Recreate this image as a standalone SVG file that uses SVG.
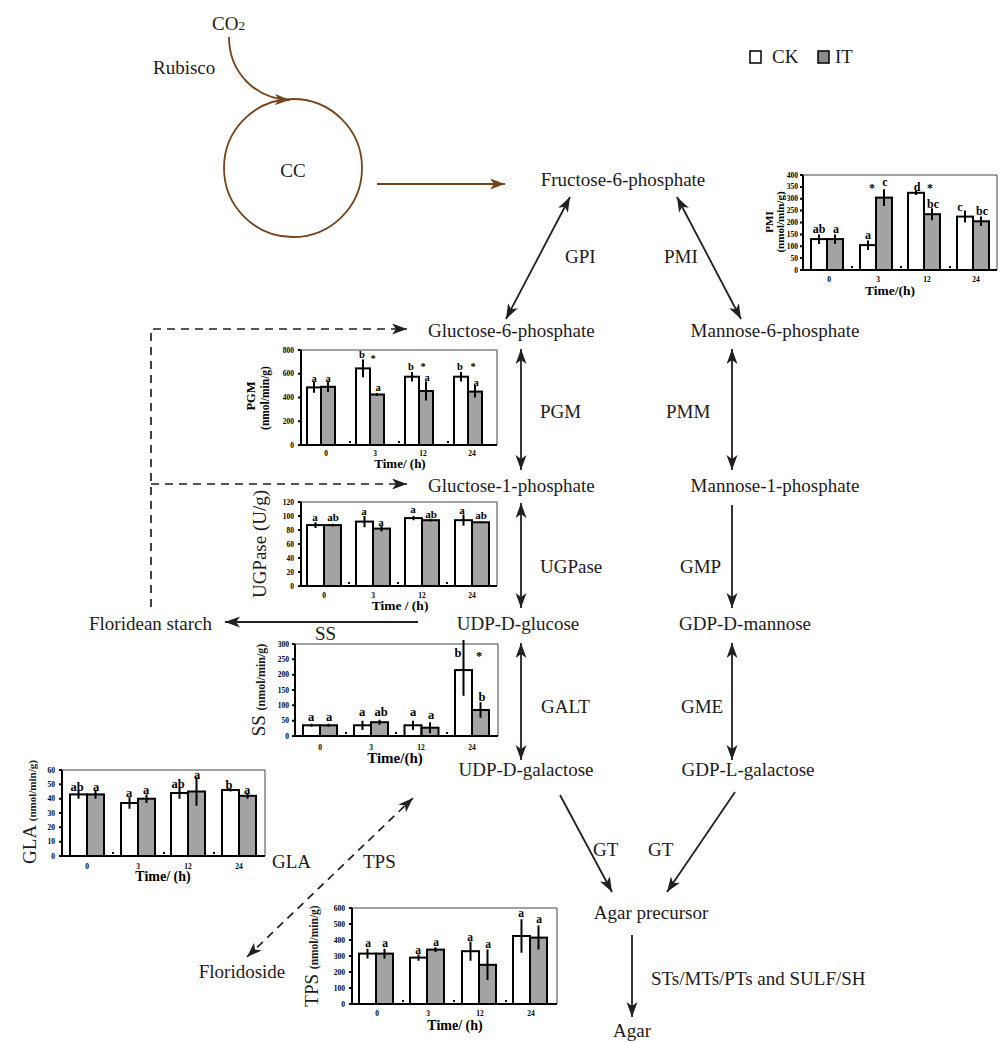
<svg xmlns="http://www.w3.org/2000/svg" width="1000" height="1043" viewBox="0 0 1000 1043">
<defs>
<style>
.t{font-family:"Liberation Serif","Times New Roman",serif;font-size:19px;fill:#1e1a1a}
.b{font-family:"Liberation Serif","Times New Roman",serif;font-weight:bold;fill:#000}
.w{fill:#fff;stroke:#000;stroke-width:2}
.g{fill:#a3a3a3;stroke:#000;stroke-width:2}
.e{stroke:#000;stroke-width:2}
.ax{stroke:#000;stroke-width:2;fill:none}
.fr{stroke:#444;stroke-width:1;fill:none}
.tk{font-size:7.5px}
.c{stroke:#231f20;stroke-width:1.8;fill:none}
.d{stroke:#231f20;stroke-width:1.7;fill:none;stroke-dasharray:8 6}
.br{stroke:#74441f;stroke-width:1.8;fill:none}
</style>
<marker id="ah" markerUnits="userSpaceOnUse" markerWidth="17" markerHeight="12" refX="15" refY="5.5" orient="auto-start-reverse">
<path d="M0,0 L15,5.5 L0,11 L4,5.5 z" fill="#231f20"/>
</marker>
<marker id="bh" markerUnits="userSpaceOnUse" markerWidth="17" markerHeight="12" refX="15" refY="5.5" orient="auto">
<path d="M0,0 L15,5.5 L0,11 L4,5.5 z" fill="#74441f"/>
</marker>
</defs>
<rect width="1000" height="1043" fill="#fff"/>

<g id="connectors">
<path class="br" d="M229,37 C229,72 255,99 290,100" marker-end="url(#bh)"/>
<line class="br" x1="377" y1="184" x2="505" y2="184" marker-end="url(#bh)"/>
<line class="c" x1="570" y1="197" x2="506" y2="319" marker-start="url(#ah)" marker-end="url(#ah)"/>
<line class="c" x1="677" y1="197" x2="741" y2="319" marker-start="url(#ah)" marker-end="url(#ah)"/>
<line class="c" x1="521" y1="349" x2="521" y2="470" marker-start="url(#ah)" marker-end="url(#ah)"/>
<line class="c" x1="732" y1="349" x2="732" y2="470" marker-start="url(#ah)" marker-end="url(#ah)"/>
<line class="c" x1="521" y1="503" x2="521" y2="608" marker-start="url(#ah)" marker-end="url(#ah)"/>
<line class="c" x1="732" y1="505" x2="732" y2="608" marker-end="url(#ah)"/>
<line class="c" x1="521" y1="643" x2="521" y2="760" marker-start="url(#ah)" marker-end="url(#ah)"/>
<line class="c" x1="732" y1="643" x2="732" y2="760" marker-start="url(#ah)" marker-end="url(#ah)"/>
<line class="c" x1="560" y1="795" x2="612" y2="892" marker-end="url(#ah)"/>
<line class="c" x1="735" y1="792" x2="667" y2="892" marker-end="url(#ah)"/>
<line class="c" x1="632" y1="935" x2="632" y2="1017" marker-end="url(#ah)"/>
<line class="c" x1="418" y1="622" x2="225" y2="622" marker-end="url(#ah)"/>
<path class="d" d="M151,607 V329 H407" marker-end="url(#ah)"/>
<path class="d" d="M151,484 H407" marker-end="url(#ah)"/>
<line class="d" x1="247" y1="957" x2="413" y2="798" marker-start="url(#ah)" marker-end="url(#ah)"/>
</g>

<g id="node-co2"><text class="t" x="212" y="30">CO<tspan font-size="13">2</tspan></text></g>
<g id="label-rubisco"><text class="t" x="153" y="74">Rubisco</text></g>
<g id="node-cc"><circle cx="293" cy="168" r="69" fill="none" stroke="#74441f" stroke-width="1.8"/><text class="t" x="293" y="177" text-anchor="middle" font-size="20">CC</text></g>

<g id="legend">
<rect x="750" y="51" width="11" height="12" fill="#fff" stroke="#000" stroke-width="1.5"/>
<text class="t" x="772" y="63">CK</text>
<rect x="818" y="51" width="11" height="12" fill="#8c8c8c" stroke="#000" stroke-width="1.5"/>
<text class="t" x="835" y="63">IT</text>
</g>

<g id="node-f6p"><text class="t" x="623" y="186" text-anchor="middle">Fructose-6-phosphate</text></g>
<g id="node-g6p"><text class="t" x="428" y="337">Gluctose-6-phosphate</text></g>
<g id="node-m6p"><text class="t" x="775" y="337" text-anchor="middle">Mannose-6-phosphate</text></g>
<g id="node-g1p"><text class="t" x="428" y="492">Gluctose-1-phosphate</text></g>
<g id="node-m1p"><text class="t" x="775" y="492" text-anchor="middle">Mannose-1-phosphate</text></g>
<g id="node-starch"><text class="t" x="89" y="630">Floridean starch</text></g>
<g id="node-udpglc"><text class="t" x="518" y="630" text-anchor="middle">UDP-D-glucose</text></g>
<g id="node-gdpman"><text class="t" x="745" y="630" text-anchor="middle">GDP-D-mannose</text></g>
<g id="node-udpgal"><text class="t" x="526" y="776" text-anchor="middle">UDP-D-galactose</text></g>
<g id="node-gdpgal"><text class="t" x="748" y="776" text-anchor="middle">GDP-L-galactose</text></g>
<g id="node-precursor"><text class="t" x="651" y="919" text-anchor="middle">Agar precursor</text></g>
<g id="node-floridoside"><text class="t" x="242" y="978" text-anchor="middle">Floridoside</text></g>
<g id="node-agar"><text class="t" x="632" y="1037" text-anchor="middle">Agar</text></g>

<g id="enzyme-labels">
<text class="t" x="565" y="263">GPI</text>
<text class="t" x="664" y="263">PMI</text>
<text class="t" x="540" y="418">PGM</text>
<text class="t" x="666" y="418">PMM</text>
<text class="t" x="540" y="573">UGPase</text>
<text class="t" x="680" y="573">GMP</text>
<text class="t" x="315" y="640">SS</text>
<text class="t" x="541" y="713">GALT</text>
<text class="t" x="681" y="713">GME</text>
<text class="t" x="593" y="856">GT</text>
<text class="t" x="648" y="856">GT</text>
<text class="t" x="272" y="868">GLA</text>
<text class="t" x="363" y="868">TPS</text>
<text class="t" x="651" y="985">STs/MTs/PTs and SULF/SH</text>
</g>

<!-- PMI chart -->
<g id="chart-pmi">
<path class="fr" d="M803,175 H997 V270"/>
<rect class="w" x="811" y="239.1" width="16" height="30.9"/><rect class="g" x="827" y="239.1" width="16" height="30.9"/>
<rect class="w" x="860" y="245.1" width="16" height="24.9"/><rect class="g" x="876" y="197.6" width="16" height="72.4"/>
<rect class="w" x="908" y="192.8" width="16" height="77.2"/><rect class="g" x="924" y="214.2" width="16" height="55.8"/>
<rect class="w" x="957" y="216.6" width="16" height="53.4"/><rect class="g" x="973" y="221.3" width="16" height="48.7"/>
<path class="e" d="M819,234.4V243.9M835,234.4V243.9M868,240.4V249.9M884,189.3V205.9M916,190.5V195M932,208.2V220.2M965,210.6V222.6M981,216.5V226"/>
<path class="ax" d="M803,175 V270 H997"/>
<path class="e" stroke-width="1" d="M800,175H803M800,186.9H803M800,198.8H803M800,210.6H803M800,222.5H803M800,234.4H803M800,246.3H803M800,258.1H803M800,270H803"/>
<path class="e" d="M852,268v-2M901,268v-2M950,268v-2"/>
<g class="b tk" text-anchor="end" font-size="7">
<text x="798" y="272.5">0</text><text x="798" y="260.6">50</text><text x="798" y="248.8">100</text><text x="798" y="236.9">150</text><text x="798" y="225">200</text><text x="798" y="213.1">250</text><text x="798" y="201.3">300</text><text x="798" y="189.4">350</text><text x="798" y="177.5">400</text>
</g>
<g class="b tk" text-anchor="middle">
<text x="829" y="282">0</text><text x="878" y="282">3</text><text x="927" y="282">12</text><text x="976" y="282">24</text>
</g>
<text class="b" x="890" y="295" font-size="13.5" text-anchor="middle">Time/(h)</text>
<g class="b" font-size="12" text-anchor="middle">
<text x="819" y="233">ab</text><text x="836" y="233">a</text><text x="868" y="239">a</text><text x="872" y="192">*</text><text x="885" y="186">c</text>
<text x="917" y="191">d</text><text x="930" y="192">*</text><text x="933" y="208">bc</text><text x="960" y="211">c</text><text x="982" y="215">bc</text>
</g>
<text class="b" font-size="11" transform="translate(773,222) rotate(-90)" text-anchor="middle">PMI</text>
<text class="b" font-size="11" transform="translate(784,222) rotate(-90)" text-anchor="middle">(nmol/min/g)</text>
</g>

<!-- PGM chart -->
<g id="chart-pgm">
<path class="fr" d="M301,350 H497 V445"/>
<rect class="w" x="307" y="387.4" width="14" height="57.6"/><rect class="g" x="321" y="386.8" width="14" height="58.2"/>
<rect class="w" x="356" y="368.4" width="14" height="76.6"/><rect class="g" x="370" y="394.5" width="14" height="50.5"/>
<rect class="w" x="405" y="376.7" width="14" height="68.3"/><rect class="g" x="419" y="391" width="14" height="54"/>
<rect class="w" x="454" y="376.7" width="14" height="68.3"/><rect class="g" x="468" y="391.6" width="14" height="53.4"/>
<path class="e" d="M314,382.1V392.7M328,381.5V392.1M363,359.5V377.3M377,393.1V395.9M412,372V381.4M426,381.5V400.5M461,372V381.4M475,385.6V397.6"/>
<path class="ax" d="M301,350 V445 H497"/>
<path class="e" stroke-width="1" d="M298,350H301M298,373.75H301M298,397.5H301M298,421.25H301M298,445H301"/>
<path class="e" d="M350,443v-2M399,443v-2M448,443v-2"/>
<g class="b tk" text-anchor="end">
<text x="294" y="447.5">0</text><text x="294" y="423.75">200</text><text x="294" y="400">400</text><text x="294" y="376.25">600</text><text x="294" y="352.5">800</text>
</g>
<g class="b tk" text-anchor="middle">
<text x="326" y="456">0</text><text x="375" y="456">3</text><text x="423" y="456">12</text><text x="472" y="456">24</text>
</g>
<text class="b" x="400" y="468" font-size="13" text-anchor="middle">Time/ (h)</text>
<g class="b" font-size="10.5" text-anchor="middle">
<text x="314" y="382">a</text><text x="328" y="382">a</text><text x="362" y="358">b</text><text x="373" y="362">*</text><text x="378" y="391">a</text>
<text x="411" y="370">b</text><text x="423" y="370">*</text><text x="427" y="381">a</text><text x="460" y="370">b</text><text x="473" y="370">*</text><text x="476" y="386">a</text>
</g>
<text class="b" font-size="12.5" transform="translate(255,396) rotate(-90)" text-anchor="middle" font-weight="normal">PGM</text>
<text class="b" font-size="11.5" transform="translate(269,398) rotate(-90)" text-anchor="middle">(nmol/min/g)</text>
</g>

<!-- UGPase chart -->
<g id="chart-ugpase">
<path class="fr" d="M301,502 H497 V586"/>
<rect class="w" x="307" y="525.1" width="17" height="60.9"/><rect class="g" x="324" y="525.1" width="17" height="60.9"/>
<rect class="w" x="356" y="521.6" width="17" height="64.4"/><rect class="g" x="373" y="528.6" width="17" height="57.4"/>
<rect class="w" x="405" y="518.1" width="17" height="67.9"/><rect class="g" x="422" y="520.2" width="17" height="65.8"/>
<rect class="w" x="455" y="520.2" width="17" height="65.8"/><rect class="g" x="472" y="522.3" width="17" height="63.7"/>
<path class="e" d="M315.5,522.3V527.9M332.5,523.7V526.5M364.5,516V527.2M381.5,525.8V531.4M413.5,516V520.2M430.5,518.8V521.6M463.5,514.6V525.8M480.5,521.6V523"/>
<path class="ax" d="M301,502 V586 H497"/>
<path class="e" stroke-width="1" d="M298,502H301M298,516H301M298,530H301M298,544H301M298,558H301M298,572H301M298,586H301"/>
<path class="e" d="M349,584v-2M398,584v-2M447,584v-2"/>
<g class="b tk" text-anchor="end">
<text x="294" y="588.5">0</text><text x="294" y="574.5">20</text><text x="294" y="560.5">40</text><text x="294" y="546.5">60</text><text x="294" y="532.5">80</text><text x="294" y="518.5">100</text><text x="294" y="504.5">120</text>
</g>
<g class="b tk" text-anchor="middle">
<text x="324" y="598">0</text><text x="373" y="598">3</text><text x="422" y="598">12</text><text x="472" y="598">24</text>
</g>
<text class="b" x="400" y="610" font-size="13.5" text-anchor="middle">Time / (h)</text>
<g class="b" font-size="11" text-anchor="middle">
<text x="315" y="521">a</text><text x="333" y="521">ab</text><text x="364" y="515">a</text><text x="381" y="526">a</text>
<text x="413" y="513">a</text><text x="431" y="518">ab</text><text x="462" y="514">a</text><text x="481" y="519">ab</text>
</g>
<text class="t" font-size="12.5" transform="translate(266,544) rotate(-90)" text-anchor="middle" fill="#000">UGPase (U/g)</text>
</g>

<!-- SS chart -->
<g id="chart-ss">
<path class="fr" d="M295,644 H498 V736"/>
<rect class="w" x="303" y="725.3" width="17" height="10.7"/><rect class="g" x="320" y="725.3" width="17" height="10.7"/>
<rect class="w" x="354" y="725.3" width="17" height="10.7"/><rect class="g" x="371" y="722.2" width="17" height="13.8"/>
<rect class="w" x="404.5" y="725.3" width="17" height="10.7"/><rect class="g" x="421.5" y="727.7" width="17" height="8.3"/>
<rect class="w" x="455" y="670.1" width="17" height="65.9"/><rect class="g" x="472" y="710" width="17" height="26"/>
<path class="e" d="M311.5,723.8V726.8M328.5,723.8V726.8M362.5,720.7V729.9M379.5,719.7V724.7M413,720.7V729.9M430,722.2V733.2M463.5,640V695.7M480.5,702.3V717.7"/>
<path class="ax" d="M295,644 V736 H498"/>
<path class="e" stroke-width="1" d="M292,644H295M292,659.3H295M292,674.7H295M292,690H295M292,705.3H295M292,720.7H295M292,736H295"/>
<path class="e" d="M346,734v-2M396,734v-2M447,734v-2"/>
<g class="b tk" text-anchor="end">
<text x="289" y="738.5">0</text><text x="289" y="723.2">50</text><text x="289" y="707.8">100</text><text x="289" y="692.5">150</text><text x="289" y="677.2">200</text><text x="289" y="661.8">250</text><text x="289" y="646.5">300</text>
</g>
<g class="b tk" text-anchor="middle">
<text x="320" y="750">0</text><text x="371" y="750">3</text><text x="421" y="750">12</text><text x="472" y="750">24</text>
</g>
<text class="b" x="395" y="763" font-size="15" text-anchor="middle">Time/(h)</text>
<g class="b" font-size="12.5" text-anchor="middle">
<text x="311" y="721">a</text><text x="329" y="721">a</text><text x="362" y="716">a</text><text x="381" y="716">ab</text>
<text x="413" y="716">a</text><text x="431" y="719">a</text><text x="458" y="657">b</text><text x="479" y="660">*</text><text x="482" y="701">b</text>
</g>
<text class="t" font-size="13.5" transform="translate(265,690) rotate(-90)" text-anchor="middle" fill="#000"><tspan>SS </tspan><tspan font-weight="bold" font-size="12">(nmol/min/g)</tspan></text>
</g>

<!-- GLA chart -->
<g id="chart-gla">
<path class="fr" d="M62,770 H265 V856"/>
<rect class="w" x="70" y="794.4" width="17" height="61.6"/><rect class="g" x="87" y="794.4" width="17" height="61.6"/>
<rect class="w" x="121" y="803" width="17" height="53"/><rect class="g" x="138" y="798.7" width="17" height="57.3"/>
<rect class="w" x="171" y="793" width="17" height="63"/><rect class="g" x="188" y="791.5" width="17" height="64.5"/>
<rect class="w" x="222" y="790" width="17" height="66"/><rect class="g" x="239" y="795.8" width="17" height="60.2"/>
<path class="e" d="M78.5,790.1V798.7M95.5,790.1V798.7M129.5,797.3V808.7M146.5,794.4V803M179.5,787.3V798.7M196.5,777.2V805.8M230.5,788.6V791.4M247.5,792.9V798.7"/>
<path class="ax" d="M62,770 V856 H265"/>
<path class="e" stroke-width="1" d="M59,770H62M59,784.3H62M59,798.7H62M59,813H62M59,827.3H62M59,841.7H62M59,856H62"/>
<path class="e" d="M113,854v-2M164,854v-2M214,854v-2"/>
<g class="b tk" text-anchor="end">
<text x="55" y="858.5">0</text><text x="55" y="844.2">10</text><text x="55" y="829.8">20</text><text x="55" y="815.5">30</text><text x="55" y="801.2">40</text><text x="55" y="786.8">50</text><text x="55" y="772.5">60</text>
</g>
<g class="b tk" text-anchor="middle">
<text x="87" y="869">0</text><text x="138" y="869">3</text><text x="188" y="869">12</text><text x="239" y="869">24</text>
</g>
<text class="b" x="163" y="881" font-size="14" text-anchor="middle">Time/ (h)</text>
<g class="b" font-size="12.5" text-anchor="middle">
<text x="77" y="791">ab</text><text x="96" y="791">a</text><text x="129" y="797">a</text><text x="146" y="794">a</text>
<text x="178" y="788">ab</text><text x="197" y="779">a</text><text x="229" y="789">b</text><text x="247" y="794">a</text>
</g>
<text class="t" font-size="12" transform="translate(36,812) rotate(-90)" text-anchor="middle" fill="#000"><tspan>GLA </tspan><tspan font-weight="bold" font-size="11">(nmol/min/g)</tspan></text>
</g>

<!-- TPS chart -->
<g id="chart-tps">
<path class="fr" d="M352,908 H557 V1004" stroke="#777"/>
<rect class="w" x="359" y="953.6" width="17" height="50.4"/><rect class="g" x="376" y="953.6" width="17" height="50.4"/>
<rect class="w" x="410" y="957.6" width="17" height="46.4"/><rect class="g" x="427" y="949.6" width="17" height="54.4"/>
<rect class="w" x="462" y="951.2" width="17" height="52.8"/><rect class="g" x="479" y="964.8" width="17" height="39.2"/>
<rect class="w" x="513" y="936" width="17" height="68"/><rect class="g" x="530" y="937.6" width="17" height="66.4"/>
<path class="e" d="M367.5,948.8V958.4M384.5,948.8V958.4M418.5,954.4V960.8M435.5,947.2V952M470.5,941.6V960.8M487.5,949.6V980M521.5,919.2V952.8M538.5,925.6V949.6"/>
<path class="ax" d="M352,908 V1004 H557"/>
<path class="e" stroke-width="1" d="M349,908H352M349,924H352M349,940H352M349,956H352M349,972H352M349,988H352M349,1004H352"/>
<path class="e" d="M403,1002v-2M454,1002v-2M506,1002v-2"/>
<g class="b tk" text-anchor="end">
<text x="345" y="1006.5">0</text><text x="345" y="990.5">100</text><text x="345" y="974.5">200</text><text x="345" y="958.5">300</text><text x="345" y="942.5">400</text><text x="345" y="926.5">500</text><text x="345" y="910.5">600</text>
</g>
<g class="b tk" text-anchor="middle">
<text x="377" y="1016">0</text><text x="428" y="1016">3</text><text x="480" y="1016">12</text><text x="531" y="1016">24</text>
</g>
<text class="b" x="455" y="1030" font-size="14" text-anchor="middle">Time/ (h)</text>
<g class="b" font-size="11.5" text-anchor="middle">
<text x="368" y="947">a</text><text x="385" y="947">a</text><text x="418" y="954">a</text><text x="436" y="946">a</text>
<text x="470" y="941">a</text><text x="488" y="948">a</text><text x="521" y="917">a</text><text x="539" y="923">a</text>
</g>
<text class="t" font-size="13" transform="translate(318,956) rotate(-90)" text-anchor="middle" fill="#000"><tspan>TPS </tspan><tspan font-weight="bold" font-size="11.5">(nmol/min/g)</tspan></text>
</g>
</svg>
